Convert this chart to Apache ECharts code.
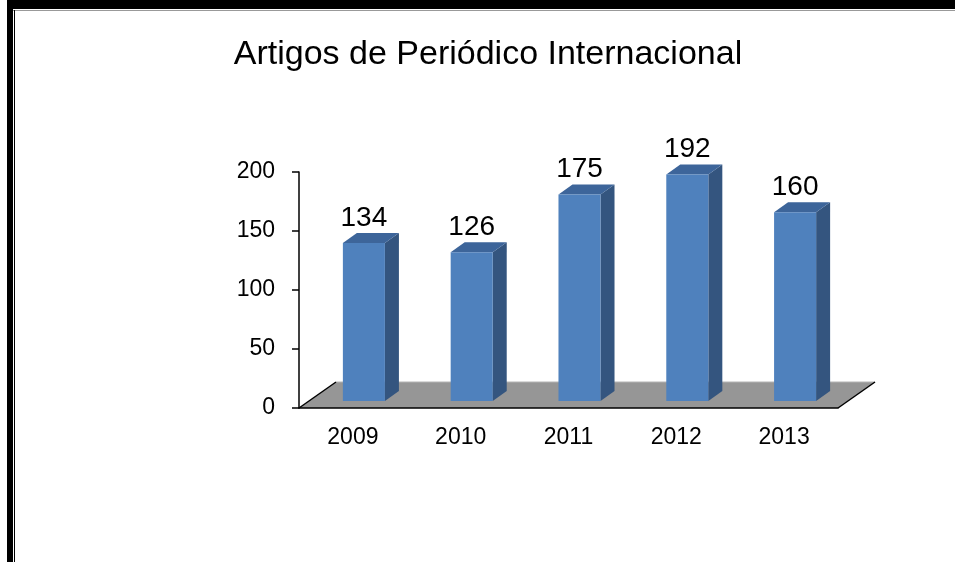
<!DOCTYPE html>
<html>
<head>
<meta charset="utf-8">
<script src="https://cdn.jsdelivr.net/npm/echarts@6/dist/echarts.min.js"></script>
<style>
  html, body { margin: 0; padding: 0; background: #fff; }
  #main { width: 955px; height: 562px; }
</style>
</head>
<body>
<div id="main"></div>
<script>
var anos = ['2009', '2010', '2011', '2012', '2013'];
var artigos = [134, 126, 175, 192, 160];
var yTicks = [0, 50, 100, 150, 200];

var chart = echarts.init(document.getElementById('main'), null, {renderer: 'canvas'});
var font = '"Liberation Sans", Arial, sans-serif';

// deslocamento da "profundidade" do piso 3D
var DEPTH_X = 37, DEPTH_Y = 26;

function renderFloor(params, api) {
    var cs = params.coordSys;
    var x0 = cs.x, x1 = cs.x + cs.width, y0 = cs.y + cs.height;
    return {
        type: 'group',
        children: [
            {
                type: 'polygon',
                shape: {points: [[x0, y0], [x1, y0], [x1 + DEPTH_X, y0 - DEPTH_Y], [x0 + DEPTH_X, y0 - DEPTH_Y]]},
                style: {fill: '#969696'}
            },
            {
                type: 'polyline',
                shape: {points: [[x0 + DEPTH_X, y0 - DEPTH_Y], [x1 + DEPTH_X, y0 - DEPTH_Y]]},
                style: {stroke: '#b4b4b4', lineWidth: 1, fill: null}
            },
            {
                type: 'polyline',
                shape: {points: [[x0, y0], [x0 + DEPTH_X, y0 - DEPTH_Y]]},
                style: {stroke: '#000', lineWidth: 1.5, fill: null}
            },
            {
                type: 'polyline',
                shape: {points: [[x1, y0], [x1 + DEPTH_X, y0 - DEPTH_Y]]},
                style: {stroke: '#000', lineWidth: 1.5, fill: null}
            }
        ]
    };
}

function renderBar(params, api) {
    var idx = api.value(0);
    var val = api.value(1);
    var base = api.coord([idx, 0]);
    var top = api.coord([idx, val]);
    var bw = api.size([1, 0])[0] * 0.39;
    var cx = base[0] + 11;
    var lift = 7;
    var left = cx - bw / 2, right = cx + bw / 2;
    var yb = base[1] - lift, yt = top[1] - lift;
    var dx = 14, dy = 10;
    return {
        type: 'group',
        children: [
            {
                type: 'polygon',
                shape: {points: [[right, yb], [right + dx, yb - dy], [right + dx, yt - dy], [right, yt]]},
                style: {fill: '#34557f'}
            },
            {
                type: 'polygon',
                shape: {points: [[left, yt], [right, yt], [right + dx, yt - dy], [left + dx, yt - dy]]},
                style: {fill: '#3d659a'}
            },
            {
                type: 'rect',
                shape: {x: left, y: yt, width: bw, height: yb - yt},
                style: {fill: '#4f81bd'}
            },
            {
                type: 'text',
                x: cx, y: yt - 25,
                style: {
                    text: String(val),
                    fill: '#000',
                    font: '28px ' + font,
                    textAlign: 'center',
                    textVerticalAlign: 'middle'
                }
            }
        ]
    };
}

var option = {
    backgroundColor: '#fff',
    animation: false,
    title: {
        text: 'Artigos de Periódico Internacional',
        left: 483,
        textAlign: 'center',
        top: 33,
        textStyle: {color: '#000', fontSize: 34, fontWeight: 'normal', fontFamily: font}
    },
    graphic: [
        {type: 'rect', shape: {x: 7, y: 0, width: 948, height: 9}, style: {fill: '#000'}},
        {type: 'rect', shape: {x: 7, y: 0, width: 6, height: 562}, style: {fill: '#000'}},
        {type: 'line', shape: {x1: 13, y1: 10.5, x2: 955, y2: 10.5}, style: {stroke: '#999', lineWidth: 1}},
        {type: 'line', shape: {x1: 14.5, y1: 10, x2: 14.5, y2: 562}, style: {stroke: '#000', lineWidth: 1}}
    ],
    grid: {left: 299, right: 117, top: 172, bottom: 154},
    xAxis: {
        type: 'category',
        data: anos,
        z: 5,
        axisLine: {lineStyle: {color: '#000', width: 1.5}},
        axisTick: {length: 8, lineStyle: {color: '#000', width: 1.5}},
        axisLabel: {color: '#000', fontSize: 23, fontFamily: font, margin: 18}
    },
    yAxis: {
        type: 'value',
        min: yTicks[0],
        max: yTicks[yTicks.length - 1],
        interval: 50,
        z: 5,
        splitLine: {show: false},
        axisLine: {show: true, lineStyle: {color: '#000', width: 1.5}},
        axisTick: {show: true, length: 7, lineStyle: {color: '#000', width: 1.5}},
        axisLabel: {color: '#000', fontSize: 23, fontFamily: font, margin: 24}
    },
    series: [
        {
            type: 'custom',
            z: 1,
            renderItem: renderFloor,
            data: [[0, 0]],
            silent: true
        },
        {
            type: 'custom',
            z: 3,
            renderItem: renderBar,
            encode: {x: 0, y: 1},
            data: anos.map(function (a, i) { return [i, artigos[i]]; })
        }
    ]
};
chart.setOption(option);
</script>
</body>
</html>
